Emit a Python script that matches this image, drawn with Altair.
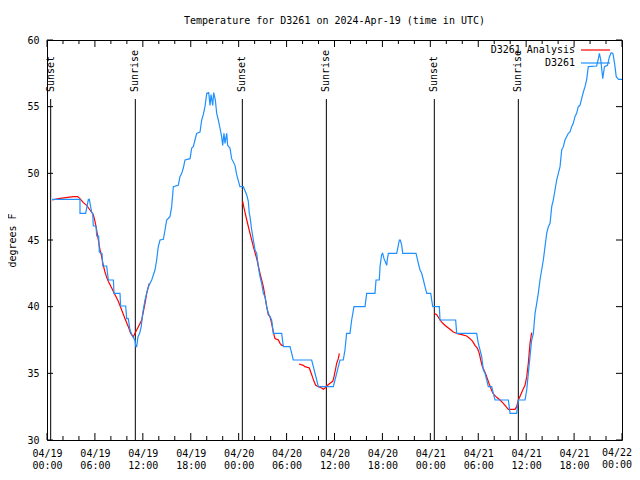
import altair as alt
import pandas as pd

# ---- data (hours since 2024-04-19 00:00 UTC, degrees F) ----
obs_hours = [0.66, 4.13, 4.13, 4.84, 5.18, 5.30, 5.59, 5.72, 5.80, 6.14, 6.22, 6.47, 6.55, 6.89, 6.97,
             7.47, 7.68, 8.31, 8.39, 9.14, 9.22, 9.85, 9.98, 10.18, 10.39, 10.73, 11.0, 11.14, 11.23,
             11.40, 11.60, 11.80, 11.98, 12.27, 12.69, 13.11, 13.52, 13.73, 13.94, 14.15, 14.57, 14.78,
             14.99, 15.40, 15.61, 15.82, 16.44, 16.65, 16.87, 17.07, 17.28, 17.91, 18.12, 18.32, 18.53,
             18.74, 19.16, 19.37, 19.57, 19.78, 20.0, 20.25, 20.41, 20.54, 20.75, 20.87, 21.08, 21.25,
             21.45, 21.66, 21.87, 22.0, 22.16, 22.29, 22.50, 22.62, 22.91, 23.12, 23.54, 23.75, 24.16,
             24.58, 25.0, 25.21, 25.33, 25.42, 25.63, 25.84, 26.05, 26.26, 26.46, 26.67, 26.88, 27.09,
             27.30, 27.51, 27.71, 28.13, 28.34, 29.39, 29.59, 30.43, 30.64, 30.84, 33.14, 33.35, 33.56,
             33.77, 33.98, 35.85, 36.06, 36.27, 36.48, 36.69, 37.10, 37.31, 37.52, 37.94, 38.15, 38.44,
             39.82, 40.03, 41.07, 41.20, 41.61, 41.70, 41.90, 42.03, 42.20, 42.54, 42.61, 42.74, 43.79,
             43.99, 44.12, 44.24, 44.42, 44.54, 46.21, 46.50, 46.71, 46.92, 47.13, 47.33, 47.55, 48.05,
             48.17, 48.30, 49.13, 49.21, 51.17, 51.30, 53.80, 54.01, 54.22, 54.43, 54.64, 54.85, 55.06,
             55.26, 55.68, 55.89, 56.10, 57.77, 57.98, 58.81, 59.02, 59.86, 60.07, 60.27, 60.48, 60.69,
             60.90, 61.11, 61.32, 61.52, 61.73, 61.94, 62.15, 62.36, 62.57, 62.78, 62.99, 63.20, 63.40,
             63.61, 63.82, 64.03, 64.24, 64.45, 64.66, 64.86, 65.28, 65.49, 65.70, 65.90, 66.11, 66.32,
             66.53, 66.74, 66.95, 67.16, 67.37, 67.57, 67.78, 68.83, 69.04, 69.17, 69.34, 69.59, 69.80,
             70.18, 70.43, 70.64, 70.86, 71.07, 71.28, 71.57, 72.0]
obs_temps = [48.05, 48.05, 47.0, 47.0, 48.05, 48.05, 47.1, 47.0, 46.05, 46.05, 45.3, 45.3, 44.1, 44.0, 43.05,
             43.05, 42.0, 42.0, 41.0, 41.0, 40.05, 40.05, 39.1, 39.1, 38.25, 37.75, 37.5, 37.0, 37.0,
             37.75, 38.0, 38.5, 39.5, 40.5, 41.5, 42.0, 42.75, 43.5, 44.5, 45.0, 45.05, 45.75,
             46.5, 46.75, 47.5, 49.0, 49.1, 49.75, 50.0, 50.4, 51.0, 51.1, 51.9, 52.0, 52.5,
             53.0, 53.1, 54.0, 54.4, 55.0, 56.0, 56.05, 55.1, 55.9, 55.1, 56.05, 55.5, 54.5,
             54.0, 53.4, 52.75, 52.1, 53.0, 52.25, 53.0, 52.1, 51.9, 51.1, 50.6, 49.9, 49.0,
             49.0, 48.4, 47.9, 47.0, 46.75, 45.75, 45.0, 44.25, 44.0, 43.0, 42.25, 41.75, 41.0,
             40.75, 40.0, 39.5, 39.0, 38.0, 38.0, 37.0, 37.0, 36.5, 36.0, 36.0, 35.5, 35.0,
             34.5, 34.0, 34.0, 34.5, 35.0, 35.5, 36.0, 36.0, 36.75, 38.0, 38.0, 39.0, 40.0,
             40.0, 41.0, 41.0, 42.0, 42.0, 43.0, 43.9, 44.0, 43.6, 43.1, 43.5, 44.0, 44.0,
             44.6, 45.0, 45.0, 44.6, 44.0, 44.0, 43.25, 42.75, 42.5, 42.0, 41.5, 41.0, 41.0,
             40.5, 40.0, 40.0, 39.0, 39.0, 38.0, 38.0, 37.25, 36.75, 36.25, 35.25, 35.0, 34.5,
             34.0, 34.0, 33.5, 33.0, 33.0, 32.0, 32.0, 33.0, 33.0, 33.75, 35.0, 36.25, 37.5,
             38.0, 39.5, 40.25, 41.0, 42.0, 42.75, 43.5, 44.5, 45.5, 46.0, 46.25, 47.5, 48.0,
             48.75, 49.5, 50.0, 50.5, 51.75, 52.0, 52.5, 53.0, 53.1, 53.5, 53.75, 54.25, 54.5,
             55.0, 55.1, 55.6, 56.1, 56.5, 57.0, 58.0, 58.05, 58.6, 59.0, 58.5, 57.1, 58.0,
             58.1, 58.75, 59.05, 59.0, 58.25, 57.25, 57.05, 57.05]

ana1_hours = [0.66, 1.42, 3.3, 3.84, 4.13, 4.55, 4.97, 5.38, 5.8, 6.01, 6.22, 6.43, 6.64, 6.85, 7.05, 7.26,
              7.47, 7.68, 8.1, 8.51, 8.93, 9.35, 9.77, 10.18, 10.48, 10.81, 11.02, 11.44, 11.86, 12.06,
              12.27, 12.48, 12.81]
ana1_temps = [48.0, 48.1, 48.25, 48.25, 48.1, 47.8, 47.6, 47.25, 46.9, 46.4, 45.75, 45.0, 44.25, 43.75, 43.1,
              42.6, 42.2, 41.9, 41.4, 40.9, 40.4, 39.75, 39.1, 38.5, 38.0, 37.75, 38.0, 38.5, 39.0, 39.6,
              40.25, 41.0, 41.75]
ana2_hours = [24.5, 24.67, 25.01, 25.42, 25.84, 26.26, 26.67, 27.09, 27.3, 27.51, 27.71, 27.92, 28.13,
              28.34, 28.55, 28.97, 29.18, 29.39, 29.59]
ana2_temps = [47.9, 47.4, 46.5, 45.5, 44.5, 43.6, 42.5, 41.5, 40.75, 40.0, 39.4, 39.25, 38.75, 38.1, 37.6,
              37.5, 37.25, 37.1, 37.1]
ana3_hours = [31.55, 32.1, 32.3, 32.85, 33.02, 33.23, 33.43, 33.65, 33.98, 34.4, 34.6, 34.81, 35.02, 35.44,
              35.78, 35.94, 36.11, 36.27, 36.48, 36.6]
ana3_temps = [35.7, 35.6, 35.5, 35.4, 35.1, 34.75, 34.4, 34.1, 34.0, 33.9, 33.8, 33.9, 34.05, 34.25, 34.4,
              34.75, 35.25, 35.75, 36.1, 36.5]
ana4_hours = [48.5, 48.8, 49.21, 49.55, 50.05, 50.46, 50.88, 51.5, 51.93, 52.55, 52.97, 53.3, 53.59, 53.88,
              54.13, 54.31, 54.51, 54.72, 54.97, 55.14, 55.35, 55.56, 55.76, 55.97, 56.31, 56.72, 57.14,
              57.48, 57.77, 58.6, 58.81, 59.02, 59.32, 59.57, 59.86, 60.07, 60.27, 60.48, 60.69]
ana4_temps = [39.5, 39.4, 39.0, 38.75, 38.5, 38.3, 38.1, 37.95, 37.9, 37.8, 37.6, 37.4, 37.1, 36.9, 36.5,
              36.0, 35.5, 35.25, 34.9, 34.6, 34.25, 33.9, 33.6, 33.4, 33.2, 33.0, 32.75, 32.5, 32.3, 32.3,
              32.5, 33.0, 33.4, 33.75, 34.1, 34.75, 35.75, 37.25, 38.05]

sun_hours = [0.46, 11.06, 24.46, 34.98, 48.5, 59.02]
sun_labels = ["Sunset", "Sunrise", "Sunset", "Sunrise", "Sunset", "Sunrise"]

x_major = [0, 6, 12, 18, 24, 30, 36, 42, 48, 54, 60, 66, 72]
x_minor = [h for h in range(0, 73, 2) if h % 6 != 0]
y_major = [30, 35, 40, 45, 50, 55, 60]

legend_names = ["D3261 Analysis", "D3261"]
title_text = "Temperature for D3261 on 2024-Apr-19 (time in UTC)"

# ---- styling ----
FONT = "DejaVu Sans Mono"
W, H = 575, 400
BLUE = "#1e90ff"
RED = "#ff0000"

obs_df = pd.DataFrame({"h": obs_hours, "T": obs_temps})
obs_df["idx"] = range(len(obs_df))
ana_df = pd.concat([
    pd.DataFrame({"h": ana1_hours, "T": ana1_temps, "seg": 1}),
    pd.DataFrame({"h": ana2_hours, "T": ana2_temps, "seg": 2}),
    pd.DataFrame({"h": ana3_hours, "T": ana3_temps, "seg": 3}),
    pd.DataFrame({"h": ana4_hours, "T": ana4_temps, "seg": 4}),
])
sun_df = pd.DataFrame({"h": sun_hours, "label": sun_labels})


def tick_label(h):
    return "04/%02d\n%02d:00" % (19 + h // 24, h % 24)


last_df = pd.DataFrame({"h": [x_major[-1]], "label": [tick_label(x_major[-1])]})

label_expr = ("['04/' + (19 + floor(datum.value / 24)), "
              "((datum.value % 24) < 10 ? '0' : '') + (datum.value % 24) + ':00']")

x_enc = alt.X("h:Q", scale=alt.Scale(domain=[0, 72], nice=False, zero=False),
              axis=alt.Axis(values=x_major[:-1], labelExpr=label_expr, title=None, labelPadding=8,
                            labelLineHeight=12, labelFont=FONT, labelFontSize=10,
                            labelColor="black", labelFlush=False, grid=False, ticks=False,
                            domain=False))
y_enc = alt.Y("T:Q", scale=alt.Scale(domain=[30, 60], nice=False, zero=False),
              axis=alt.Axis(values=y_major, title="degrees F", titleFont=FONT, titleFontSize=10,
                            titleFontWeight="normal", titleColor="black", titlePadding=9,
                            labelFont=FONT, labelFontSize=10, labelColor="black", labelPadding=8,
                            grid=False, ticks=False, domain=False))

sun_rules = alt.Chart(sun_df).mark_rule(color="black", strokeWidth=1).encode(
    x=x_enc, y=alt.value(59), y2=alt.value(H))
sun_text = alt.Chart(sun_df).mark_text(angle=270, align="left", baseline="middle", font=FONT,
                                       fontSize=10, color="black").encode(
    x=x_enc, y=alt.value(52), text="label:N")

# last x tick label kept inside the 640px window
last_label = alt.Chart(last_df).mark_text(align="right", baseline="top", font=FONT, fontSize=10,
                                          color="black", lineBreak="\n", lineHeight=12,
                                          dx=10).encode(
    x=x_enc, y=alt.value(H + 8), text="label:N")

xt_major = pd.DataFrame({"h": x_major})
xt_minor = pd.DataFrame({"h": x_minor})
yt_major = pd.DataFrame({"T": y_major})
tick_layers = [
    alt.Chart(xt_major).mark_rule(color="black").encode(x=x_enc, y=alt.value(H), y2=alt.value(H - 7)),
    alt.Chart(xt_major).mark_rule(color="black").encode(x=x_enc, y=alt.value(0), y2=alt.value(7)),
    alt.Chart(xt_minor).mark_rule(color="black").encode(x=x_enc, y=alt.value(H), y2=alt.value(H - 4)),
    alt.Chart(xt_minor).mark_rule(color="black").encode(x=x_enc, y=alt.value(0), y2=alt.value(4)),
    alt.Chart(yt_major).mark_rule(color="black").encode(y=y_enc, x=alt.value(0), x2=alt.value(6)),
    alt.Chart(yt_major).mark_rule(color="black").encode(y=y_enc, x=alt.value(W), x2=alt.value(W - 6)),
]

ana_line = alt.Chart(ana_df).mark_line(color=RED, strokeWidth=1.2).encode(
    x=x_enc, y=y_enc, detail="seg:N", order="h:Q")
obs_line = alt.Chart(obs_df).mark_line(color=BLUE, strokeWidth=1.2).encode(
    x=x_enc, y=y_enc, order=alt.Order("idx:Q"))

leg1 = pd.DataFrame({"name": [legend_names[0]]})
leg2 = pd.DataFrame({"name": [legend_names[1]]})
legend_layers = [
    alt.Chart(leg1).mark_text(align="right", baseline="middle", font=FONT, fontSize=10,
                              color="black").encode(text="name:N", x=alt.value(528), y=alt.value(10)),
    alt.Chart(leg1).mark_rule(color=RED, strokeWidth=1.2).encode(
        x=alt.value(534), x2=alt.value(563), y=alt.value(10)),
    alt.Chart(leg2).mark_text(align="right", baseline="middle", font=FONT, fontSize=10,
                              color="black").encode(text="name:N", x=alt.value(528), y=alt.value(23)),
    alt.Chart(leg2).mark_rule(color=BLUE, strokeWidth=1.2).encode(
        x=alt.value(534), x2=alt.value(563), y=alt.value(23)),
]

chart = alt.layer(
    sun_rules, sun_text, *tick_layers, ana_line, obs_line, last_label, *legend_layers
).properties(
    width=W, height=H,
    title=alt.TitleParams(title_text, font=FONT, fontSize=10, fontWeight="normal",
                          color="black", anchor="middle", offset=9),
    autosize="none",
    padding={"left": 39, "top": 32, "right": 10, "bottom": 32},
).configure_view(
    stroke="black", strokeWidth=1
).configure_axis(
    domain=False, grid=False, ticks=False
)

chart.save("out.html", embed_options={"renderer": "svg", "actions": False})
